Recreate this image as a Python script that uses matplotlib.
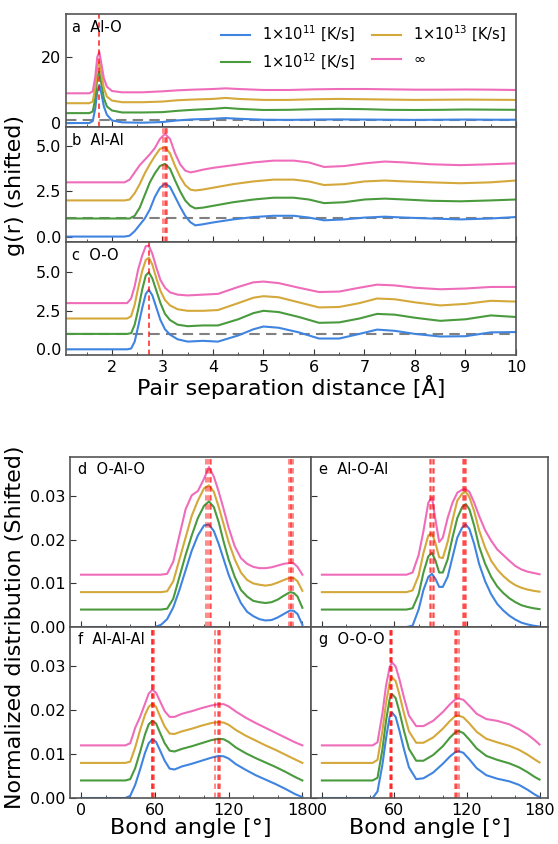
import matplotlib.pyplot as plt
from matplotlib.ticker import MultipleLocator

# ---- legend / colours ----
rates = ['1×10$^{11}$ [K/s]', '1×10$^{12}$ [K/s]', '1×10$^{13}$ [K/s]', '∞']
colors = ['#3f84e0', '#4a9a3e', '#d4a83a', '#ef6cba']

# ---- pair distribution functions (already shifted) ----
r_alo = [1.09, 1.55, 1.62, 1.67, 1.71, 1.75, 1.79, 1.84, 1.9, 2.0, 2.2, 2.6, 3.0, 3.3, 3.6,
         4.0, 4.25, 4.5, 5.0, 5.5, 6.0, 6.5, 7.0, 7.5, 8.0, 8.5, 9.0, 9.5, 10.0]
alo_11 = [0, 0, 0.6, 4.5, 9.5, 11.5, 9.0, 5.0, 2.5, 0.8, 0.2, 0.1, 0.3, 0.8, 1.1,
          1.3, 1.5, 1.3, 1.0, 0.95, 1.05, 1.1, 1.05, 1.0, 0.95, 1.0, 1.05, 1.0, 1.0]
alo_12 = [3, 3, 3.5, 7.5, 14, 15.5, 12, 7.5, 5, 3.8, 3.2, 3.2, 3.3, 3.7, 4.0,
          4.3, 4.6, 4.3, 3.95, 4.0, 4.2, 4.3, 4.2, 4.0, 3.95, 4.0, 4.1, 4.05, 4.0]
alo_13 = [6, 6, 6.5, 11, 17, 18.5, 15, 10.5, 8, 6.8, 6.3, 6.3, 6.5, 6.9, 7.1,
          7.3, 7.6, 7.3, 7.0, 7.0, 7.2, 7.3, 7.2, 7.1, 7.0, 7.05, 7.1, 7.05, 7.0]
alo_inf = [9, 9, 9.6, 14, 20, 21.5, 18, 13.5, 11, 9.7, 9.3, 9.3, 9.6, 9.9, 10.1,
           10.3, 10.5, 10.3, 10.0, 10.0, 10.2, 10.3, 10.3, 10.2, 10.1, 10.1, 10.15, 10.1, 10.0]

r_alal = [1.09, 2.25, 2.35, 2.45, 2.55, 2.65, 2.75, 2.85, 2.95, 3.05, 3.15, 3.25, 3.35, 3.45, 3.55, 3.65,
          3.8, 4.0, 4.4, 4.8, 5.2, 5.6, 5.9, 6.2, 6.6, 7.0, 7.4, 7.8, 8.3, 8.9, 9.5, 10.0]
alal_11 = [0, 0, 0.05, 0.3, 0.65, 1.0, 1.5, 2.2, 2.7, 2.93, 2.75, 2.2, 1.65, 1.15, 0.8, 0.62,
           0.68, 0.78, 0.95, 1.08, 1.15, 1.15, 1.05, 0.9, 0.95, 1.05, 1.1, 1.05, 1.0, 0.95, 1.0, 1.08]
alal_12 = [1, 1, 1, 1.15, 1.6, 2.3, 3.0, 3.5, 3.9, 4.02, 3.75, 3.1, 2.5, 2.0, 1.7, 1.56,
           1.6, 1.7, 1.9, 2.05, 2.15, 2.15, 2.05, 1.85, 1.9, 2.05, 2.1, 2.05, 1.98, 1.95, 2.0, 2.05]
alal_13 = [2, 2, 2.05, 2.4, 2.9, 3.5, 4.0, 4.45, 4.85, 4.95, 4.6, 3.9, 3.3, 2.85, 2.6, 2.55,
           2.6, 2.7, 2.9, 3.05, 3.15, 3.15, 3.05, 2.85, 2.9, 3.05, 3.1, 3.05, 3.0, 2.95, 3.0, 3.1]
alal_inf = [3, 3.0, 3.15, 3.55, 3.95, 4.25, 4.55, 4.9, 5.4, 5.68, 5.4, 4.6, 4.0, 3.65, 3.55, 3.6,
            3.7, 3.8, 3.95, 4.1, 4.2, 4.2, 4.1, 3.85, 3.9, 4.05, 4.15, 4.1, 4.0, 3.95, 4.0, 4.05]

r_oo = [1.09, 2.3, 2.38, 2.45, 2.52, 2.6, 2.67, 2.73, 2.8, 2.88, 2.96, 3.05, 3.15, 3.3, 3.5, 3.8,
        4.1, 4.5, 4.8, 5.0, 5.3, 5.7, 6.1, 6.5, 6.9, 7.25, 7.6, 8.0, 8.5, 9.0, 9.5, 10.0]
oo_11 = [0, 0, 0.05, 0.5, 1.5, 2.7, 3.6, 3.87, 3.5, 2.7, 1.9, 1.3, 0.95, 0.65, 0.5, 0.55,
         0.5, 0.9, 1.3, 1.48, 1.4, 1.1, 0.7, 0.7, 1.0, 1.28, 1.2, 1.0, 0.83, 0.85, 1.1, 1.12]
oo_12 = [1, 1, 1.05, 1.6, 2.6, 3.9, 4.8, 5.0, 4.6, 3.8, 3.0, 2.3, 1.9, 1.6, 1.5, 1.55,
         1.55, 1.95, 2.35, 2.5, 2.42, 2.1, 1.72, 1.75, 2.0, 2.3, 2.25, 2.05, 1.85, 1.95, 2.2, 2.1]
oo_13 = [2, 2, 2.15, 2.9, 4.0, 5.1, 5.8, 5.95, 5.5, 4.6, 3.8, 3.2, 2.85, 2.6, 2.5, 2.5,
         2.55, 3.0, 3.35, 3.45, 3.38, 3.05, 2.72, 2.75, 3.0, 3.3, 3.25, 3.05, 2.85, 2.95, 3.15, 3.1]
oo_inf = [3, 3, 3.3, 4.1, 5.2, 6.1, 6.7, 6.72, 6.2, 5.3, 4.5, 4.0, 3.7, 3.55, 3.5, 3.55,
          3.6, 4.05, 4.35, 4.4, 4.3, 4.0, 3.72, 3.75, 4.0, 4.2, 4.15, 4.0, 3.9, 3.95, 4.05, 4.05]

# ---- bond angle distributions (already shifted) ----
a_oalo = [0, 60, 65, 70, 75, 80, 85, 90, 95, 100, 104, 108, 112, 116, 120, 125, 130, 135, 140,
          145, 150, 155, 160, 165, 170, 173, 176, 180]
oalo_11 = [0, 0, 0.0005, 0.0018, 0.0045, 0.0085, 0.013, 0.0175, 0.021, 0.0233, 0.0235, 0.022, 0.019,
           0.0155, 0.012, 0.0085, 0.0055, 0.0035, 0.0025, 0.0018, 0.0015, 0.0016, 0.0022, 0.003,
           0.0038, 0.0037, 0.003, 0.0005]
oalo_12 = [0.004, 0.004, 0.004, 0.0042, 0.0065, 0.0115, 0.0165, 0.021, 0.025, 0.0278, 0.0288, 0.0275,
           0.024, 0.0195, 0.0155, 0.0115, 0.0085, 0.007, 0.006, 0.0057, 0.0055, 0.0057, 0.0063,
           0.0072, 0.008, 0.0078, 0.007, 0.0044]
oalo_13 = [0.008, 0.008, 0.008, 0.0082, 0.0105, 0.0155, 0.0205, 0.0255, 0.029, 0.0318, 0.0325, 0.031,
           0.0275, 0.0235, 0.0195, 0.0155, 0.0125, 0.0108, 0.0100, 0.0097, 0.0095, 0.0097, 0.0102,
           0.0108, 0.0113, 0.0112, 0.0105, 0.0083]
oalo_inf = [0.012, 0.012, 0.012, 0.0122, 0.015, 0.021, 0.027, 0.0302, 0.0312, 0.034, 0.0367, 0.0345,
            0.031, 0.027, 0.0228, 0.0185, 0.0158, 0.0145, 0.0138, 0.0135, 0.0135, 0.0137, 0.0141,
            0.0145, 0.0147, 0.0146, 0.0138, 0.012]

a_aloal = [0, 70, 75, 80, 84, 88, 91, 94, 97, 100, 104, 108, 112, 116, 119, 122, 126, 130, 135,
           140, 145, 150, 155, 160, 165, 170, 175, 180]
aloal_11 = [0, 0, 0.0003, 0.004, 0.0085, 0.0115, 0.0122, 0.011, 0.0092, 0.0092, 0.0115, 0.016, 0.0205,
            0.0228, 0.0235, 0.0225, 0.019, 0.0145, 0.0105, 0.0075, 0.0053, 0.0038, 0.0026, 0.0017,
            0.001, 0.0006, 0.0003, 0.0001]
aloal_12 = [0.004, 0.004, 0.0043, 0.0075, 0.0125, 0.0162, 0.017, 0.0152, 0.0125, 0.0125, 0.0155, 0.0205,
            0.025, 0.0275, 0.0282, 0.027, 0.0232, 0.0185, 0.0145, 0.0115, 0.0093, 0.0078, 0.0066,
            0.0057, 0.005, 0.0046, 0.0043, 0.0041]
aloal_13 = [0.008, 0.008, 0.0084, 0.0118, 0.017, 0.021, 0.0215, 0.0192, 0.016, 0.0158, 0.0195, 0.0245,
            0.029, 0.0306, 0.031, 0.0298, 0.0265, 0.0222, 0.0182, 0.0152, 0.0132, 0.0117, 0.0105,
            0.0096, 0.009, 0.0086, 0.0083, 0.0081]
aloal_inf = [0.012, 0.012, 0.0125, 0.0165, 0.022, 0.0285, 0.0298, 0.0245, 0.0195, 0.0205, 0.025, 0.0285,
             0.0308, 0.0315, 0.0316, 0.031, 0.0285, 0.0255, 0.0222, 0.0198, 0.0178, 0.0165, 0.0152,
             0.014, 0.0132, 0.0127, 0.0124, 0.0121]

a_alalal = [0, 36, 40, 44, 48, 52, 55, 58, 61, 64, 68, 72, 76, 82, 90, 98, 106, 112, 116, 120, 126,
            134, 142, 150, 158, 166, 174, 180]
alalal_11 = [0, 0, 0.0005, 0.003, 0.0065, 0.0103, 0.0125, 0.0134, 0.0128, 0.011, 0.0085, 0.0067, 0.0065,
             0.0072, 0.0078, 0.0085, 0.0092, 0.0096, 0.0095, 0.009, 0.0077, 0.0064, 0.0052, 0.0042,
             0.0032, 0.0021, 0.0009, 0.0002]
alalal_12 = [0.004, 0.004, 0.0043, 0.0068, 0.0105, 0.0145, 0.0168, 0.0176, 0.017, 0.015, 0.0125, 0.0108,
             0.0106, 0.0112, 0.0118, 0.0125, 0.0132, 0.0135, 0.0134, 0.0128, 0.0115, 0.0102, 0.0091,
             0.0081, 0.0071, 0.006, 0.0048, 0.004]
alalal_13 = [0.008, 0.008, 0.0083, 0.0115, 0.0155, 0.019, 0.0208, 0.0215, 0.0208, 0.0188, 0.0163, 0.0147,
             0.0146, 0.0152, 0.0158, 0.0165, 0.0171, 0.0173, 0.0172, 0.0167, 0.0155, 0.0142, 0.0131,
             0.012, 0.011, 0.0099, 0.0088, 0.008]
alalal_inf = [0.012, 0.012, 0.0125, 0.016, 0.0185, 0.0215, 0.0238, 0.0247, 0.024, 0.0222, 0.0198, 0.0185,
              0.0185, 0.0192, 0.0198, 0.0205, 0.0211, 0.0214, 0.0214, 0.0209, 0.0197, 0.0183, 0.0171,
              0.016, 0.0149, 0.0138, 0.0127, 0.012]

a_ooo = [0, 42, 46, 50, 53, 56, 58, 61, 64, 68, 72, 78, 84, 92, 100, 106, 110, 113, 117, 122, 128,
         136, 145, 155, 163, 170, 176, 180]
ooo_11 = [0, 0, 0.0015, 0.0075, 0.0135, 0.0185, 0.0195, 0.0185, 0.0155, 0.011, 0.007, 0.0043, 0.0045,
          0.0058, 0.0078, 0.0095, 0.0104, 0.0107, 0.0103, 0.0088, 0.0068, 0.0052, 0.0044, 0.0038,
          0.003, 0.0019, 0.0008, 0.0002]
ooo_12 = [0.004, 0.004, 0.0046, 0.011, 0.0175, 0.0225, 0.0237, 0.0228, 0.0198, 0.0152, 0.0112, 0.0085,
          0.0085, 0.0098, 0.0118, 0.0138, 0.0149, 0.0153, 0.0148, 0.0133, 0.0113, 0.0096, 0.0087,
          0.0079, 0.007, 0.0059, 0.0048, 0.0042]
ooo_13 = [0.008, 0.008, 0.0087, 0.0152, 0.0215, 0.0263, 0.0275, 0.0267, 0.0237, 0.0192, 0.0152, 0.0126,
          0.0126, 0.0138, 0.0158, 0.0176, 0.0186, 0.0188, 0.0184, 0.017, 0.0151, 0.0135, 0.0127,
          0.0119, 0.011, 0.0099, 0.0088, 0.0081]
ooo_inf = [0.012, 0.012, 0.0127, 0.0192, 0.0255, 0.0298, 0.0309, 0.03, 0.0272, 0.0228, 0.0188, 0.0164,
           0.0164, 0.0176, 0.0196, 0.0214, 0.0224, 0.0227, 0.0224, 0.021, 0.0192, 0.018, 0.0176,
           0.0168, 0.0157, 0.0145, 0.0132, 0.0122]

# ---- peak positions (red dashed markers) ----
peaks_alo = [1.74]
peaks_alal = [3.02, 3.05, 3.07, 3.09]
peaks_oo = [2.73]
peaks_oalo = [102, 103.5, 104.5, 105.5, 169.5, 170.5, 171, 172]
peaks_aloal = [89.5, 90.5, 91.5, 92.5, 116.5, 117.5, 118.5, 119.5]
peaks_alalal = [57.5, 58, 58.5, 59, 109, 111, 112, 113]
peaks_ooo = [56.5, 57, 57.5, 58, 110, 111, 112, 113]

rdf_panels = [
    ('a  Al-O', r_alo, [alo_11, alo_12, alo_13, alo_inf], peaks_alo),
    ('b  Al-Al', r_alal, [alal_11, alal_12, alal_13, alal_inf], peaks_alal),
    ('c  O-O', r_oo, [oo_11, oo_12, oo_13, oo_inf], peaks_oo),
]
bad_panels = [
    ('d  O-Al-O', a_oalo, [oalo_11, oalo_12, oalo_13, oalo_inf], peaks_oalo),
    ('e  Al-O-Al', a_aloal, [aloal_11, aloal_12, aloal_13, aloal_inf], peaks_aloal),
    ('f  Al-Al-Al', a_alalal, [alalal_11, alalal_12, alalal_13, alalal_inf], peaks_alalal),
    ('g  O-O-O', a_ooo, [ooo_11, ooo_12, ooo_13, ooo_inf], peaks_ooo),
]

W, H = 558, 844
fig = plt.figure(figsize=(W / 100, H / 100), dpi=100)


def px_axes(x0, y0, x1, y1):
    # pixel box (top-left origin) -> figure axes
    return fig.add_axes([x0 / W, 1 - y1 / H, (x1 - x0) / W, (y1 - y0) / H])


def style(ax):
    for s in ax.spines.values():
        s.set_color('#555555')
        s.set_linewidth(1.2)
    ax.tick_params(which='both', direction='in', labelsize=11.5, color='#333333')
    ax.tick_params(which='major', length=4)
    ax.tick_params(which='minor', length=2.5)


# top: pair distribution functions
rdf_boxes = [(66, 14, 516, 127), (66, 127, 516, 242), (66, 242, 516, 355)]
rdf_ylims = [(-1.2, 33), (-0.3, 6.06), (-0.37, 6.97)]
rdf_yticks = [[0, 20], [0.0, 2.5, 5.0], [0.0, 2.5, 5.0]]
rdf_axes = []
for i, (label, r, curves, peaks) in enumerate(rdf_panels):
    ax = px_axes(*rdf_boxes[i])
    for y, c, lab in zip(curves, colors, rates):
        ax.plot(r, y, color=c, lw=1.5, label=lab)
    ax.axhline(1, color='#808080', lw=1.5, ls=(0, (5, 3)), zorder=1)
    for p in peaks:
        ax.axvline(p, color='red', lw=1.3, ls=(0, (3, 2)), alpha=0.75 if len(peaks) == 1 else 0.5)
    ax.set_xlim(1.09, 10)
    ax.set_ylim(*rdf_ylims[i])
    ax.set_yticks(rdf_yticks[i])
    ax.xaxis.set_major_locator(MultipleLocator(1))
    ax.xaxis.set_minor_locator(MultipleLocator(0.5))
    style(ax)
    if i < 2:
        ax.tick_params(labelbottom=False)
    ax.text(0.013, 0.95, label, transform=ax.transAxes, ha='left', va='top', fontsize=10.5)
    rdf_axes.append(ax)

rdf_axes[0].legend(loc='upper right', ncol=2, frameon=False, fontsize=10.5,
                   handlelength=2.0, columnspacing=1.2, borderaxespad=0.3, labelspacing=0.5)
rdf_axes[2].set_xlabel('Pair separation distance [Å]', fontsize=16, labelpad=0)
fig.text(15 / W, 1 - 185 / H, 'g(r) (shifted)', rotation=90, ha='center', va='center', fontsize=16)

# bottom: bond angle distributions
bad_boxes = [(70, 457, 311, 627), (311, 457, 548, 627), (70, 627, 311, 798), (311, 627, 548, 798)]
for i, (label, ang, curves, peaks) in enumerate(bad_panels):
    ax = px_axes(*bad_boxes[i])
    for y, c in zip(curves, colors):
        ax.plot(ang, y, color=c, lw=1.5)
    for p in peaks:
        ax.axvline(p, color='red', lw=1.3, ls=(0, (3, 2)), alpha=0.5)
    ax.set_xlim(-9, 187)
    ax.set_ylim(0, 0.039)
    ax.set_yticks([0, 0.01, 0.02, 0.03])
    ax.set_xticks([0, 60, 120, 180])
    ax.xaxis.set_minor_locator(MultipleLocator(20))
    style(ax)
    if i < 2:
        ax.tick_params(labelbottom=False)
    else:
        ax.set_xlabel('Bond angle [°]', fontsize=16, labelpad=0)
    if i % 2 == 1:
        ax.tick_params(labelleft=False)
    ax.text(0.035, 0.97, label, transform=ax.transAxes, ha='left', va='top', fontsize=10.5)

fig.text(15 / W, 1 - 627 / H, 'Normalized distribution (Shifted)', rotation=90,
         ha='center', va='center', fontsize=16)

fig.savefig('out.png', dpi=100, facecolor='white')
